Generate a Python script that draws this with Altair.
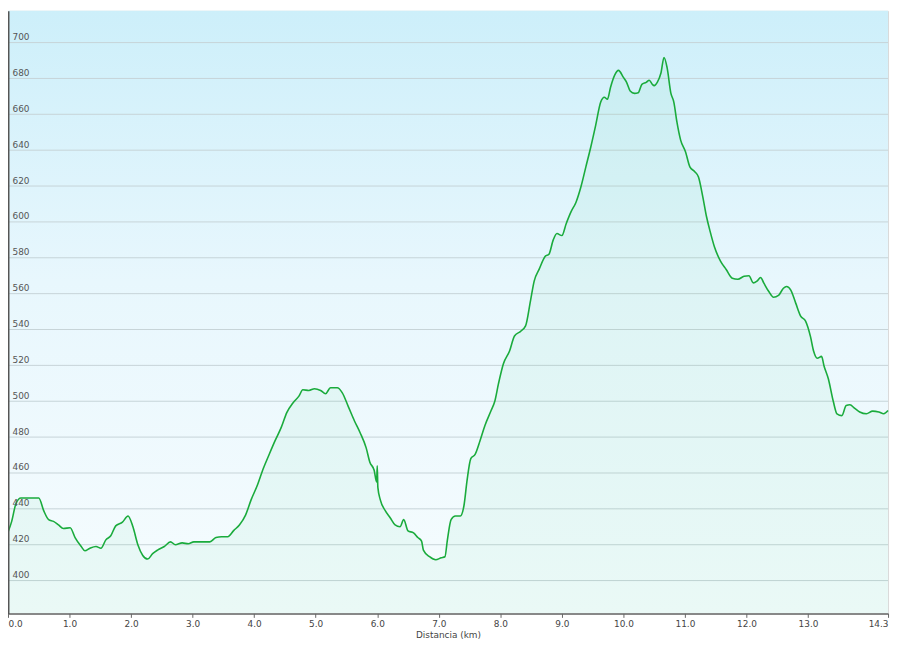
import altair as alt
import pandas as pd

# Elevation profile
dist_km = [0.0, 0.06, 0.13, 0.21, 0.34, 0.5, 0.58, 0.66, 0.74, 0.82, 0.9, 1.01, 1.09, 1.19,
           1.25, 1.33, 1.43, 1.51, 1.59, 1.67, 1.75, 1.86, 1.95, 2.03, 2.11, 2.19, 2.27, 2.35,
           2.43, 2.54, 2.64, 2.72, 2.83, 2.93, 3.02, 3.15, 3.28, 3.38, 3.47, 3.57, 3.67, 3.76,
           3.86, 3.95, 4.05, 4.15, 4.24, 4.34, 4.44, 4.53, 4.63, 4.73, 4.79, 4.89, 4.98, 5.08,
           5.16, 5.24, 5.35, 5.43, 5.53, 5.63, 5.72, 5.82, 5.88, 5.95, 5.99, 6.0, 6.01, 6.05,
           6.13, 6.21, 6.29, 6.37, 6.43, 6.5, 6.59, 6.66, 6.72, 6.75, 6.85, 6.95, 7.04, 7.1,
           7.14, 7.2, 7.27, 7.35, 7.41, 7.46, 7.52, 7.59, 7.67, 7.75, 7.85, 7.91, 7.97, 8.05,
           8.15, 8.23, 8.33, 8.41, 8.49, 8.55, 8.63, 8.73, 8.79, 8.86, 8.92, 9.0, 9.07, 9.15,
           9.23, 9.31, 9.39, 9.47, 9.55, 9.63, 9.69, 9.74, 9.79, 9.86, 9.92, 10.0, 10.05,
           10.11, 10.18, 10.24, 10.3, 10.37, 10.42, 10.47, 10.5, 10.55, 10.61, 10.66, 10.71,
           10.77, 10.82, 10.87, 10.93, 11.01, 11.08, 11.16, 11.22, 11.29, 11.35, 11.41, 11.48,
           11.58, 11.67, 11.77, 11.86, 11.96, 12.04, 12.11, 12.17, 12.23, 12.28, 12.36, 12.44,
           12.52, 12.6, 12.65, 12.72, 12.8, 12.88, 12.96, 13.04, 13.09, 13.15, 13.22, 13.26,
           13.33, 13.41, 13.47, 13.55, 13.62, 13.68, 13.76, 13.84, 13.95, 14.05, 14.15, 14.23,
           14.3]
elev_m = [427, 433, 443, 446, 446, 446, 439, 434, 433, 431, 429, 429.5, 424, 419,
          416.6, 418, 419, 418, 422.7, 425, 430.5, 432.6, 436, 430, 420, 414, 412, 415,
          417, 419, 421.6, 420, 421, 420.5, 421.6, 421.6, 421.6, 424, 424.4, 424.4, 428, 431,
          436.5, 445, 453, 462.6, 470, 478, 485.4, 493.7, 499, 503, 506.4, 506, 507, 506,
          504.2, 507.5, 507.5, 504.8, 497, 489, 482.6, 474, 466, 461.5, 455, 464, 452, 445,
          439, 435, 431, 430, 434, 427.7, 426.6, 424, 422, 417, 413.3, 411.6, 412.7, 413.3,
          422.7, 434, 436, 436, 442, 456, 468, 470.4, 478, 486.5, 494.8, 500, 509.8, 520.9,
          528, 536.4, 539, 542, 556, 567, 573.5, 580.8, 582, 590, 593.5, 592.4, 599, 605.7,
          611, 619.6, 630.7, 641.8, 654, 666.7, 669.5, 668.4, 675, 682, 684.5, 680.6, 678,
          673, 671.7, 672, 676.7, 677.8, 679, 676.7, 676, 677.8, 683, 691.7, 686,
          672, 666.7, 655.6, 645.6, 639, 630.7, 628, 625, 614, 603, 594.6, 586,
          578, 573.5, 568.6, 568, 569.7, 570, 566, 567, 569, 566, 561.3, 558,
          559, 563, 564, 562, 554.7, 547.5, 544.7, 536, 528, 524, 525, 519.7,
          512.5, 500, 493, 492, 497.6, 498, 496, 494, 493, 494.5, 494, 493,
          494.8]

y_ticks = [400, 420, 440, 460, 480, 500, 520, 540, 560, 580, 600, 620, 640, 660, 680, 700]
x_ticks = [0, 1, 2, 3, 4, 5, 6, 7, 8, 9, 10, 11, 12, 13, 14.3]

Y_DOMAIN = [381.7, 717.7]
X_DOMAIN = [0, 14.3]

df = pd.DataFrame({"d": dist_km, "e": elev_m})
grid_df = pd.DataFrame({"e": y_ticks})

xscale = alt.Scale(domain=X_DOMAIN, nice=False, zero=False)
yscale = alt.Scale(domain=Y_DOMAIN, nice=False, zero=False)

x_axis = alt.Axis(values=x_ticks, format=".1f", title="Distancia  (km)",
                  grid=False, ticks=True, tickSize=4, tickColor="#666666",
                  domainColor="#666666", domainWidth=1.5, labelFlush=True,
                  labelFont="DejaVu Sans", labelFontSize=9, labelColor="#444444",
                  labelPadding=2, titleFont="DejaVu Sans", titleFontSize=9,
                  titleFontWeight="normal", titleColor="#444444", titlePadding=2,
                  zindex=1)
y_axis = alt.Axis(values=y_ticks, format="d", title=None, grid=False, ticks=False,
                  domainColor="#555555", domainWidth=2,
                  labelAlign="left", labelBaseline="alphabetic", labelPadding=-4,
                  labelOffset=-3, labelFont="DejaVu Sans", labelFontSize=9,
                  labelColor="#555555", labelBound=False, zindex=1)

bg = alt.Chart(pd.DataFrame({"a": [0]})).mark_rect(
    color=alt.Gradient(
        gradient="linear", x1=0, x2=0, y1=0, y2=1,
        stops=[alt.GradientStop(color="#cdeffa", offset=0),
               alt.GradientStop(color="#e8f7fd", offset=0.45),
               alt.GradientStop(color="#f6fcfe", offset=1)]
    )
).encode(
    x=alt.datum(X_DOMAIN[0], scale=xscale), x2=alt.datum(X_DOMAIN[1]),
    y=alt.datum(Y_DOMAIN[1], scale=yscale), y2=alt.datum(Y_DOMAIN[0]),
)

grid = alt.Chart(grid_df).mark_rule(color="#c6d3d8", strokeWidth=1).encode(
    y=alt.Y("e:Q", scale=yscale, axis=y_axis)
)

area = alt.Chart(df).mark_area(color="#2ecc71", opacity=0.06).encode(
    x=alt.X("d:Q", scale=xscale, axis=x_axis),
    y=alt.Y("e:Q", scale=yscale, axis=y_axis),
    y2=alt.datum(Y_DOMAIN[0]),
)

line = alt.Chart(df).mark_line(color="#1aab3c", strokeWidth=1.6, interpolate="monotone").encode(
    x=alt.X("d:Q", scale=xscale, axis=x_axis),
    y=alt.Y("e:Q", scale=yscale, axis=y_axis),
)

chart = alt.layer(bg, grid, area, line).properties(
    width=892, height=634,
    padding={"left": -4, "top": 0, "right": 0, "bottom": 0},
    autosize=alt.AutoSizeParams(type="fit", contains="padding"),
).configure_view(stroke="#d8d8d8", strokeWidth=1)

chart.save("out.html", embed_options={"renderer": "svg", "actions": False})
